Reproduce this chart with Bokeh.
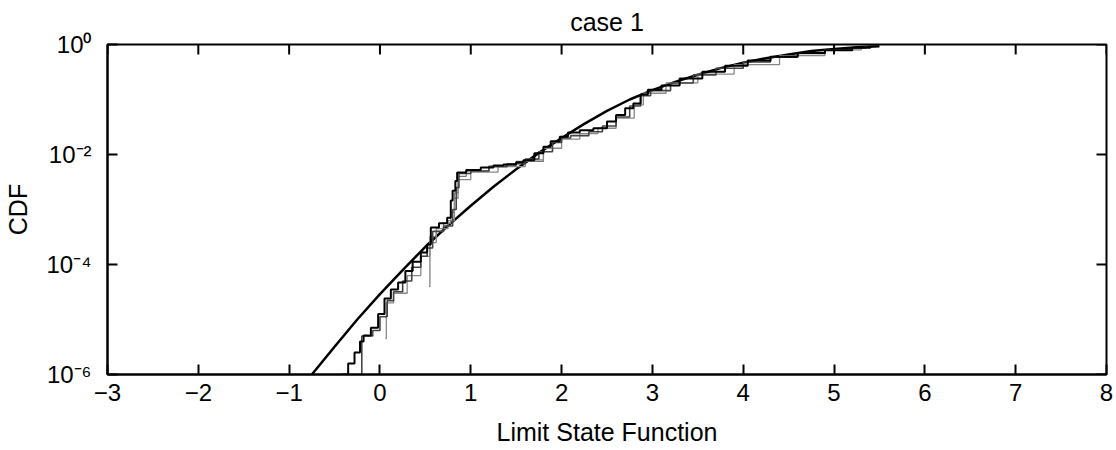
import math
from bokeh.plotting import figure
from bokeh.models import Range1d, FixedTicker, CustomJSTickFormatter, Title
from bokeh.embed import file_html
from bokeh.resources import INLINE

# ---- data ----
x_ticks = [-3, -2, -1, 0, 1, 2, 3, 4, 5, 6, 7, 8]
y_ticks = [1e-6, 1e-4, 1e-2, 1.0]

theory_x = [-0.75, -0.5, -0.25, 0.0, 0.25, 0.5, 0.75, 1.0, 1.25, 1.5, 1.75,
            2.0, 2.25, 2.5, 2.75, 3.0, 3.25, 3.5, 3.75, 4.0, 4.25, 4.5,
            4.75, 5.0, 5.25, 5.5]
theory_cdf = [1.0e-6, 3.2e-6, 1.0e-5, 2.9e-5, 7.9e-5, 2.1e-4, 5.1e-4,
              1.17e-3, 2.6e-3, 5.4e-3, 1.07e-2, 2.0e-2, 3.6e-2, 6.2e-2,
              0.10, 0.148, 0.209, 0.282, 0.372, 0.468, 0.562, 0.66, 0.76,
              0.83, 0.89, 0.93]

emp_a_x = [-0.42, -0.35, -0.28, -0.22, -0.18, -0.10, -0.02, 0.05, 0.12,
           0.20, 0.28, 0.36, 0.45, 0.52, 0.56, 0.65, 0.74, 0.78, 0.80,
           0.83, 0.85, 0.95, 1.11, 1.25, 1.36, 1.50, 1.58, 1.70, 1.80,
           1.88, 1.98, 2.07, 2.20, 2.35, 2.50, 2.60, 2.70, 2.79, 2.87,
           2.95, 3.1, 3.3, 3.55, 3.8, 4.05, 4.3, 4.6, 4.9, 5.2, 5.4]
emp_a_cdf = [1.0e-6, 1.58e-6, 2.5e-6, 4.0e-6, 5.1e-6, 7.1e-6, 1.26e-5,
             2.4e-5, 3.5e-5, 4.7e-5, 7.6e-5, 1.12e-4, 1.66e-4, 2.3e-4,
             4.7e-4, 5.6e-4, 7.1e-4, 1.45e-3, 2.2e-3, 3.3e-3, 4.7e-3,
             5.2e-3, 5.8e-3, 6.3e-3, 6.6e-3, 7.2e-3, 7.9e-3, 1.05e-2,
             1.38e-2, 1.74e-2, 2.1e-2, 2.5e-2, 2.75e-2, 3.0e-2, 4.0e-2,
             5.2e-2, 6.9e-2, 8.5e-2, 0.123, 0.15, 0.18, 0.24, 0.32, 0.41,
             0.51, 0.60, 0.70, 0.79, 0.87, 0.95]

emp_b_x = [-0.21, -0.20, -0.08, 0.0, 0.08, 0.15, 0.25, 0.35, 0.45, 0.52,
           0.58, 0.70, 0.80, 0.84, 0.87, 1.0, 1.2, 1.4, 1.6, 1.75, 1.9,
           2.0, 2.1, 2.3, 2.45, 2.6, 2.75, 2.87, 2.98, 3.2, 3.45, 3.7,
           4.0, 4.3, 4.6, 4.9, 5.2, 5.35]
emp_b_cdf = [1.0e-6, 5.0e-6, 6.3e-6, 1.12e-5, 2.2e-5, 3.2e-5, 5.0e-5,
             8.9e-5, 1.41e-4, 2.0e-4, 4.0e-4, 5.0e-4, 1.0e-3, 2.5e-3,
             4.5e-3, 5.0e-3, 6.0e-3, 6.8e-3, 8.3e-3, 1.12e-2, 1.66e-2,
             2.0e-2, 2.2e-2, 2.6e-2, 3.3e-2, 4.8e-2, 7.6e-2, 0.117, 0.145,
             0.20, 0.28, 0.37, 0.48, 0.59, 0.69, 0.79, 0.87, 0.93]

emp_c_x = [0.06, 0.07, 0.15, 0.30, 0.45, 0.55, 0.62, 0.75, 0.82, 0.86,
           1.0, 1.3, 1.6, 1.8, 2.0, 2.2, 2.4, 2.6, 2.8, 2.9, 3.15, 3.5,
           3.9, 4.4, 4.9, 5.3]
emp_c_cdf = [4.5e-6, 2.0e-5, 3.0e-5, 6.3e-5, 1.41e-4, 2.5e-4, 4.5e-4,
             6.3e-4, 1.6e-3, 3.5e-3, 4.8e-3, 6.0e-3, 8.0e-3, 1.3e-2,
             1.9e-2, 2.4e-2, 3.0e-2, 4.6e-2, 8.0e-2, 0.13, 0.20, 0.29,
             0.43, 0.63, 0.80, 0.90]

emp_d_x = [0.54, 0.55, 0.62, 0.70, 0.78, 0.82, 0.86, 0.95, 1.2, 1.5, 1.8]
emp_d_cdf = [4.0e-5, 3.2e-4, 4.0e-4, 5.6e-4, 8.9e-4, 2.0e-3, 4.0e-3,
             5.0e-3, 6.2e-3, 7.5e-3, 1.25e-2]

FONT = "Liberation Sans"

x_lo, x_hi = x_ticks[0], x_ticks[-1]
y_lo, y_hi = y_ticks[0], y_ticks[-1]

p = figure(width=1116, height=450, y_axis_type="log",
           x_range=Range1d(x_lo, x_hi), y_range=Range1d(y_lo, y_hi),
           output_backend="svg", toolbar_location=None,
           min_border_left=107, min_border_right=10,
           min_border_top=43, min_border_bottom=76)

p.title = Title(text="case 1", align="center", text_font=FONT,
                text_font_size="25px", text_font_style="normal",
                text_color="black", standoff=14, vertical_align="top")
p.grid.visible = False
p.outline_line_color = "black"
p.outline_line_width = 2
p.background_fill_color = "white"
p.border_fill_color = "white"

sup_fmt = CustomJSTickFormatter(code="""
const e = Math.round(Math.log10(tick));
const m = {'0':'\u2070','1':'\u00b9','2':'\u00b2','3':'\u00b3','4':'\u2074',
           '5':'\u2075','6':'\u2076','7':'\u2077','8':'\u2078','9':'\u2079','-':'\u207b'};
return '10' + String(e).split('').map(c => m[c]).join('');
""")

xa = p.xaxis[0]
xa.ticker = FixedTicker(ticks=x_ticks)
ya = p.yaxis[0]
ya.ticker = FixedTicker(ticks=y_ticks)
ya.formatter = sup_fmt

for ax in (xa, ya):
    ax.major_tick_in = 10
    ax.major_tick_out = 0
    ax.minor_tick_line_color = None
    ax.axis_line_color = "black"
    ax.axis_line_width = 2
    ax.major_tick_line_width = 2
    ax.major_tick_line_color = "black"
    ax.major_label_text_font = FONT
    ax.major_label_text_font_size = "24px"
    ax.major_label_text_color = "black"
    ax.axis_label_text_font = FONT
    ax.axis_label_text_font_size = "25px"
    ax.axis_label_text_font_style = "normal"
    ax.axis_label_text_color = "black"

xa.axis_label = "Limit State Function"
xa.major_label_standoff = 9
xa.axis_label_standoff = 14
ya.axis_label = "CDF"
ya.major_label_standoff = 16
ya.axis_label_standoff = 11

# inward ticks on the top and right edges of the box (clipped to the frame)
p.scatter(x=x_ticks, y=[y_hi] * len(x_ticks), marker="dash", size=20,
          angle=math.pi / 2, line_color="black", line_width=2)
p.scatter(x=[x_hi] * len(y_ticks), y=y_ticks, marker="dash", size=20,
          line_color="black", line_width=2)

p.line(theory_x, theory_cdf, line_color="black", line_width=2.5)
p.step(emp_d_x, emp_d_cdf, mode="after", line_color="#777777", line_width=1.2)
p.step(emp_c_x, emp_c_cdf, mode="after", line_color="#888888", line_width=1.3)
p.step(emp_b_x, emp_b_cdf, mode="after", line_color="#444444", line_width=1.6)
p.step(emp_a_x, emp_a_cdf, mode="after", line_color="black", line_width=2)

open("out.html", "w").write(file_html(p, INLINE))
